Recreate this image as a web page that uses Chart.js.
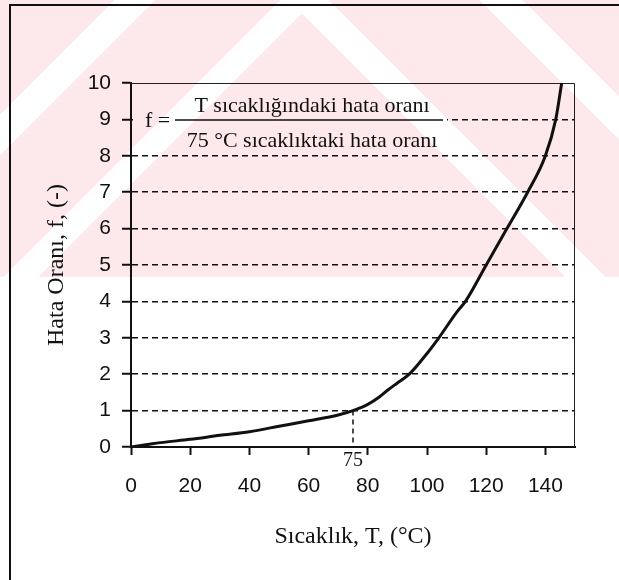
<!DOCTYPE html>
<html>
<head>
<meta charset="utf-8">
<script src="https://cdn.jsdelivr.net/npm/chart.js@4"></script>
<style>
  html, body { margin: 0; padding: 0; background: #fff; }
  #wrap { position: relative; width: 619px; height: 580px; overflow: hidden; }
  #frame { position: absolute; left: 9px; top: 4px; width: 700px; height: 700px;
           border-left: 2px solid #111; border-top: 2px solid #111; pointer-events: none; }
  #wm { position: absolute; left: 0; top: 0; width: 619px; height: 277px;
        mix-blend-mode: multiply; pointer-events: none;
        background:
          linear-gradient(135deg, transparent 0 81px, #fff 81px 110px, transparent 110px 198px, #fff 198px 223px, transparent 223px),
          linear-gradient(45deg, transparent 0 400px, #fff 400px 428px, transparent 428px 535px, #fff 535px 565px, transparent 565px),
          #fde8ec; }
</style>
</head>
<body>
<div id="wrap">
  <canvas id="chart" width="619" height="580"></canvas>
  <div id="frame"></div>
  <div id="wm"></div>
</div>
<script>
const ctx = document.getElementById("chart");

// curve
const temps  = [0, 5, 10, 20, 30, 40, 50, 60, 70, 75, 80, 84, 87, 90, 94, 100, 104, 110, 113, 120, 127, 134, 140, 143.5, 145.5];
const ratios = [0, 0.06, 0.12, 0.21, 0.32, 0.42, 0.57, 0.72, 0.88, 1.0, 1.17, 1.38, 1.58, 1.76, 2.0, 2.57, 3.0, 3.7, 4.0, 5.0, 6.0, 7.0, 8.0, 9.0, 10.0];

// axis ticks
const xTicks = [0, 20, 40, 60, 80, 100, 120, 140];
const yTicks = [0, 1, 2, 3, 4, 5, 6, 7, 8, 9, 10];

// reference point
const refT = 75;
const refF = 1;

let points = [];
temps.forEach((t, i) => {
  points.push({ x: t, y: ratios[i] });
});

const serif = "'Liberation Serif', 'Times New Roman', serif";
const sans = "'Liberation Sans', Arial, sans-serif";

const extras = {
  id: "extras",
  beforeDatasetsDraw(chart) {
    const c = chart.ctx;
    const a = chart.chartArea;
    const xs = chart.scales.x;
    const ys = chart.scales.y;
    c.save();
    // formula box hides gridline 9
    c.fillStyle = "#fff";
    c.fillRect(a.left + 2, 95, 445 - a.left, 56);
    // top + right frame
    c.strokeStyle = "#222";
    c.lineWidth = 1;
    c.beginPath();
    c.moveTo(a.left, a.top + 0.5);
    c.lineTo(a.right - 0.5, a.top + 0.5);
    c.lineTo(a.right - 0.5, a.bottom);
    c.stroke();
    // dashed line at 75
    const px = xs.getPixelForValue(refT);
    c.strokeStyle = "#111";
    c.lineWidth = 1.5;
    c.setLineDash([5, 4]);
    c.beginPath();
    c.moveTo(px, ys.getPixelForValue(refF));
    c.lineTo(px, ys.getPixelForValue(0));
    c.stroke();
    c.setLineDash([]);
    // 75 label
    c.fillStyle = "#111";
    c.font = "20px " + serif;
    c.textAlign = "center";
    c.textBaseline = "middle";
    c.fillText(String(refT), px, 461);
    // formula
    c.font = "22px " + serif;
    c.textAlign = "left";
    c.fillText("f =", 145, 121);
    c.textAlign = "center";
    c.fillText("T sıcaklığındaki hata oranı", 312, 106);
    c.fillText("75 °C sıcaklıktaki hata oranı", 312, 141);
    c.lineWidth = 1.5;
    c.beginPath();
    c.moveTo(175, 120);
    c.lineTo(443, 120);
    c.stroke();
    c.restore();
  }
};

new Chart(ctx, {
  type: "line",
  data: {
    datasets: [
      {
        label: "f",
        data: points,
        borderColor: "#111",
        backgroundColor: "#111",
        borderWidth: 3,
        pointRadius: 0,
        fill: false,
        cubicInterpolationMode: "monotone"
      }
    ]
  },
  options: {
    responsive: false,
    animation: false,
    layout: { padding: { top: 83, right: 44, left: 0, bottom: 0 } },
    plugins: {
      legend: { display: false },
      tooltip: { enabled: false }
    },
    scales: {
      x: {
        type: "linear",
        min: 0,
        max: 150,
        afterFit: (s) => { s.height = 133; },
        afterBuildTicks: (s) => { s.ticks = xTicks.map((v) => ({ value: v })); },
        grid: { drawOnChartArea: false, drawTicks: true, tickLength: 8, tickColor: "#111", tickWidth: 2 },
        border: { display: true, color: "#111", width: 2 },
        ticks: { color: "#111", font: { family: sans, size: 21 }, padding: 19 },
        title: {
          display: true,
          text: "Sıcaklık, T, (°C)",
          color: "#111",
          font: { family: serif, size: 24 },
          padding: { top: 0, bottom: 29 }
        }
      },
      y: {
        type: "linear",
        min: 0,
        max: 10,
        afterFit: (s) => { s.width = 131; },
        afterBuildTicks: (s) => { s.ticks = yTicks.map((v) => ({ value: v })); },
        grid: {
          color: (c) => (c.tick && (c.tick.value === 0 || c.tick.value === 10)) ? "rgba(0,0,0,0)" : "#111",
          lineWidth: 1.5,
          drawTicks: true,
          tickLength: 9,
          tickColor: "#111",
          tickWidth: 2
        },
        border: { display: true, color: "#111", width: 2, dash: [6, 4] },
        ticks: { color: "#111", font: { family: sans, size: 21 }, padding: 11 },
        title: {
          display: true,
          text: "Hata Oranı, f, (-)",
          color: "#111",
          font: { family: serif, size: 24 },
          padding: { top: 42, bottom: 0 }
        }
      }
    }
  },
  plugins: [extras]
});
</script>
</body>
</html>
